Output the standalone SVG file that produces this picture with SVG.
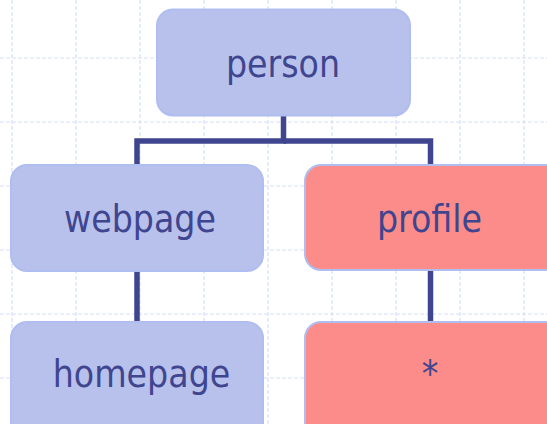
<svg xmlns="http://www.w3.org/2000/svg" width="547" height="424" viewBox="0 0 547 424">
<style>
.grid line{stroke:#d8e0fa;stroke-width:1.2;stroke-dasharray:4 2}
.blue{fill:#b7c1ec;stroke:#b0bdf0;stroke-width:2}
.red{fill:#fb8c89;stroke:#b0bdf0;stroke-width:2}
.lbl{font-family:"DejaVu Sans Condensed","DejaVu Sans",sans-serif;font-stretch:condensed;font-size:37px;fill:#3f458e;text-anchor:middle}
.conn{fill:none;stroke:#3f458e;stroke-width:5.5}
</style>
<rect width="547" height="424" fill="#ffffff"/>
<g class="grid">
<line x1="12" y1="0" x2="12" y2="424"/>
<line x1="76" y1="0" x2="76" y2="424"/>
<line x1="140" y1="0" x2="140" y2="424"/>
<line x1="204" y1="0" x2="204" y2="424"/>
<line x1="268" y1="0" x2="268" y2="424"/>
<line x1="332" y1="0" x2="332" y2="424"/>
<line x1="396" y1="0" x2="396" y2="424"/>
<line x1="460" y1="0" x2="460" y2="424"/>
<line x1="524" y1="0" x2="524" y2="424"/>
<line x1="0" y1="58" x2="547" y2="58"/>
<line x1="0" y1="122" x2="547" y2="122"/>
<line x1="0" y1="186" x2="547" y2="186"/>
<line x1="0" y1="250" x2="547" y2="250"/>
<line x1="0" y1="314" x2="547" y2="314"/>
<line x1="0" y1="378" x2="547" y2="378"/>
</g>
<g id="connectors">
<path class="conn" d="M283.5 114 V141 H137 V165"/>
<path class="conn" d="M283.5 141 H430.5 V165"/>
<path class="conn" d="M137 270 V323"/>
<path class="conn" d="M430.5 270 V323"/>
</g>
<g id="person">
<rect class="blue" x="157" y="9.5" width="253" height="106" rx="16"/>
<text class="lbl" x="283" y="77">person</text>
</g>
<g id="webpage">
<rect class="blue" x="11" y="165" width="252" height="106" rx="16"/>
<text class="lbl" x="140" y="232">webpage</text>
</g>
<g id="profile">
<rect class="red" x="305" y="165" width="260" height="105" rx="16"/>
<text class="lbl" x="429.5" y="232">profile</text>
</g>
<g id="homepage">
<rect class="blue" x="11" y="322" width="252" height="120" rx="16"/>
<text class="lbl" x="141.5" y="387">homepage</text>
</g>
<g id="star">
<rect class="red" x="305" y="322" width="260" height="120" rx="16"/>
<text class="lbl" x="430" y="387">*</text>
</g>
</svg>
